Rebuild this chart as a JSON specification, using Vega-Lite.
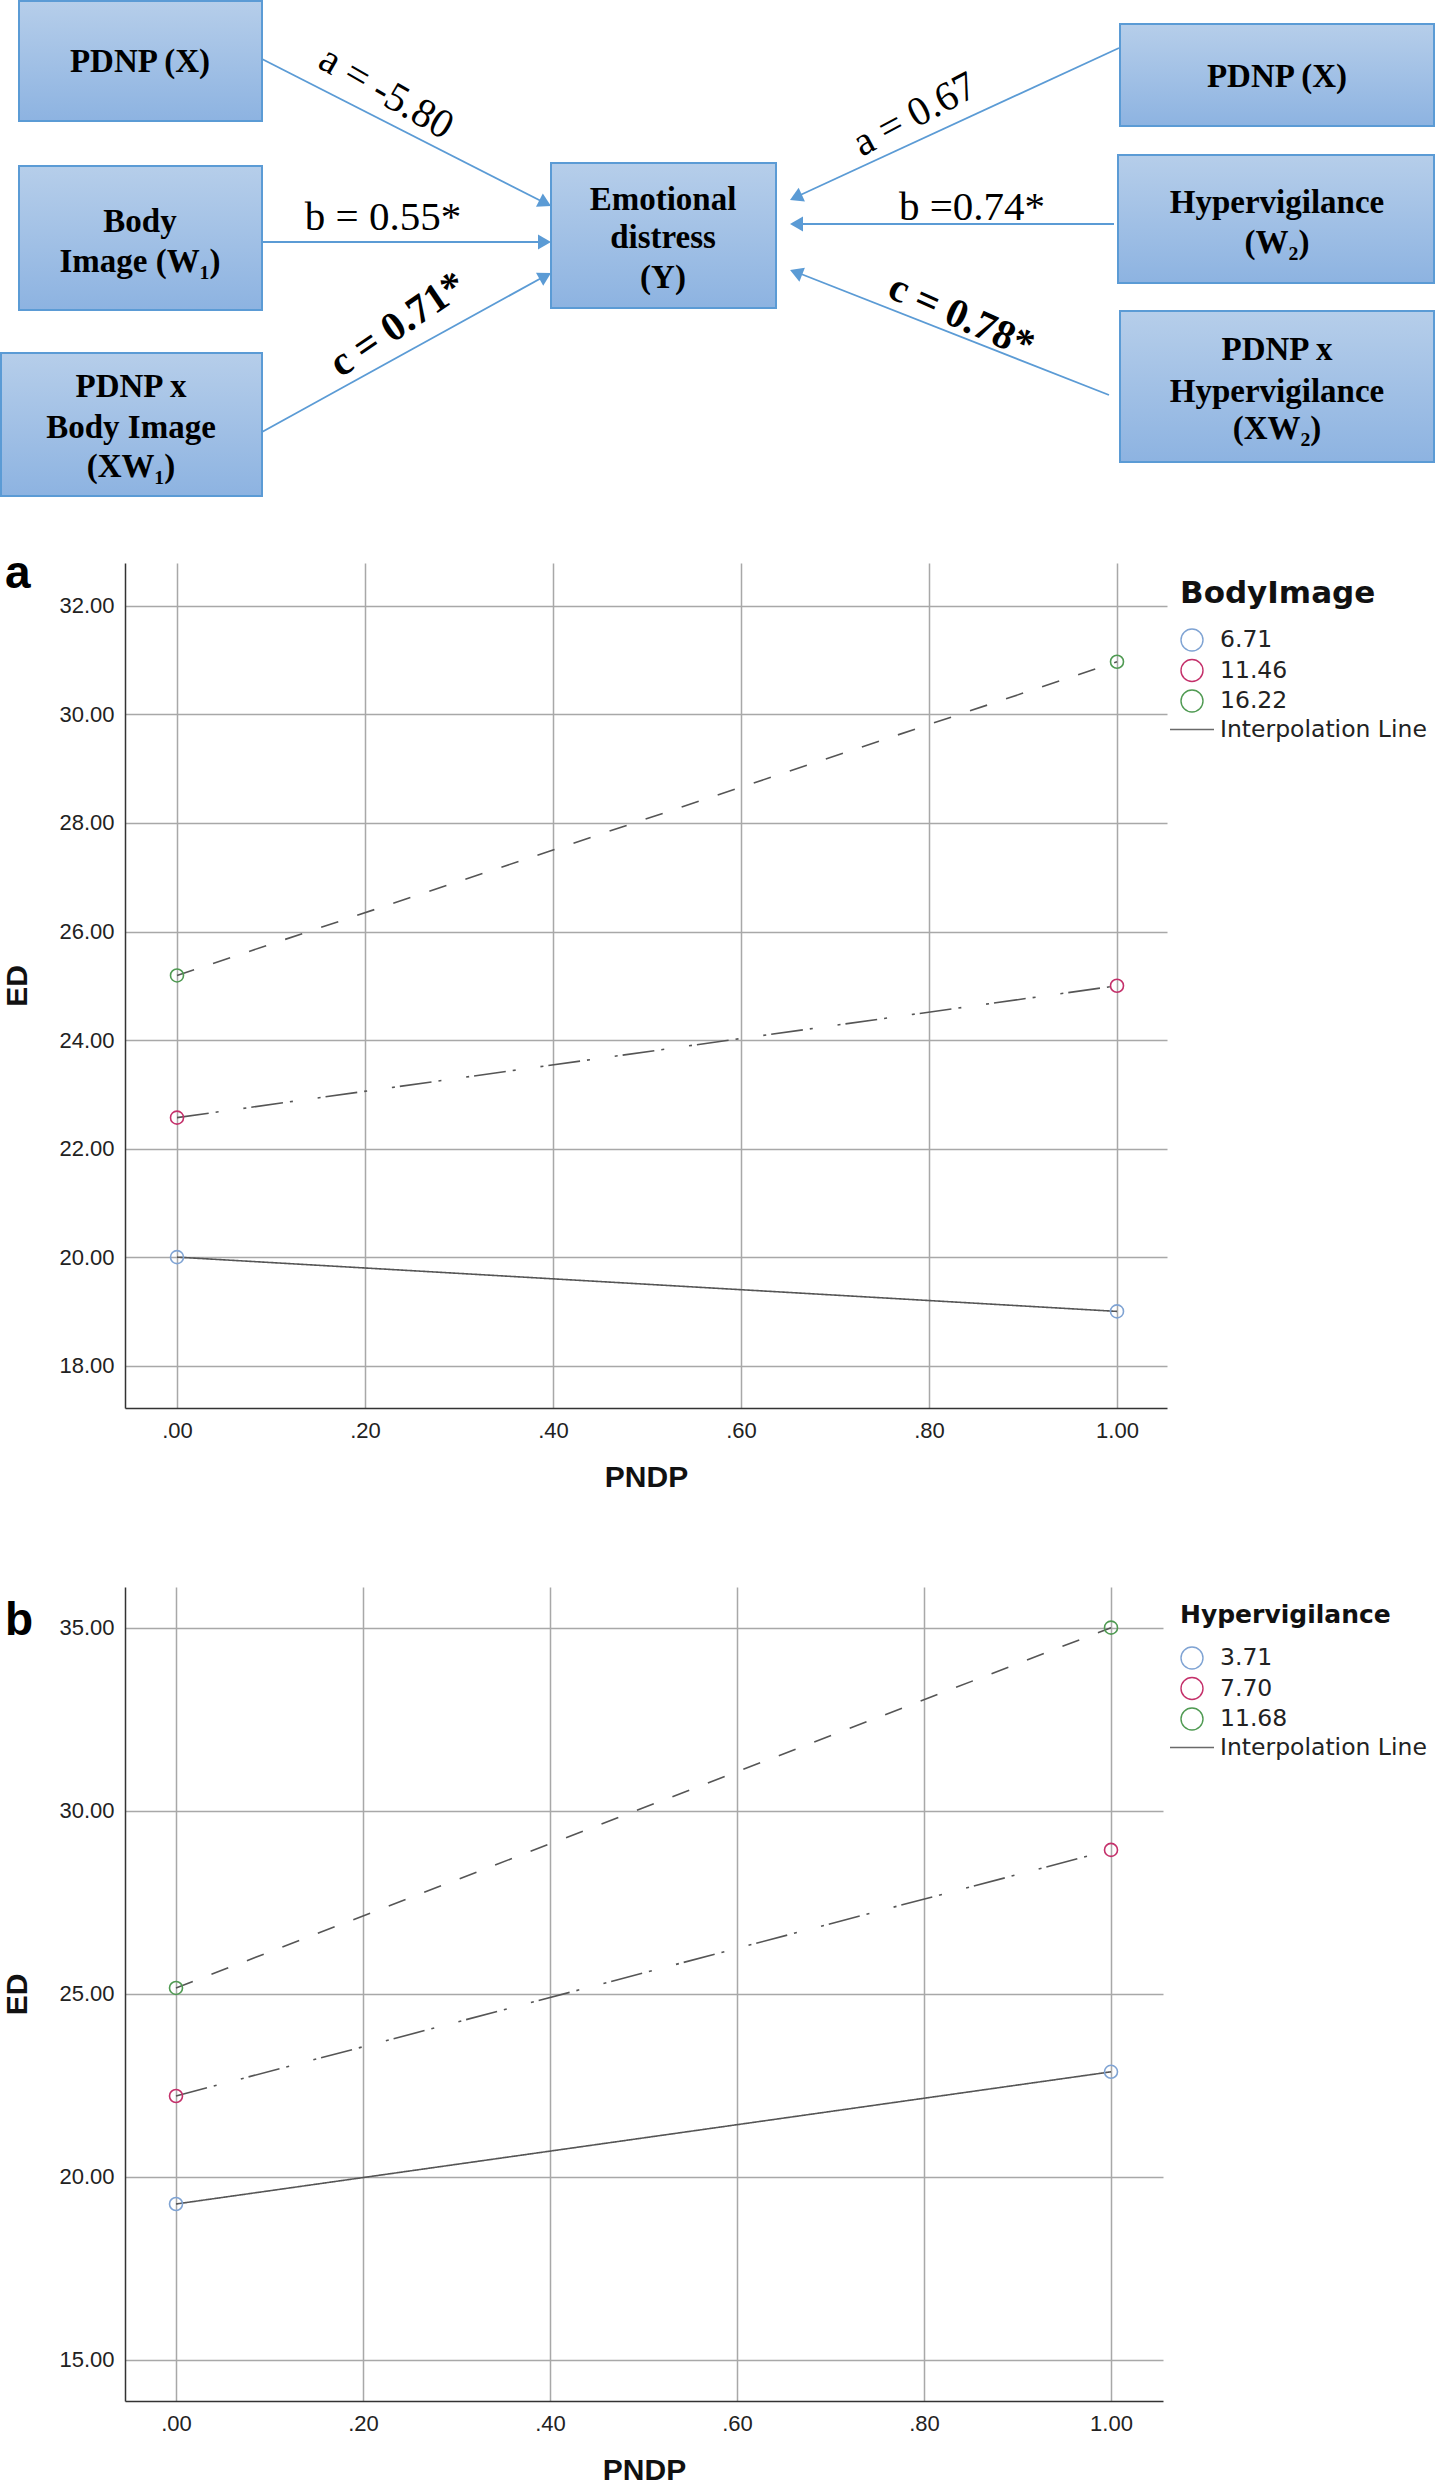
{
  "$schema": "https://vega.github.io/schema/vega-lite/v6.json",
  "padding": 0,
  "background": "white",
  "spacing": 179,
  "bounds": "flush",
  "resolve": {
    "scale": {"color": "independent", "shape": "independent", "strokeDash": "independent"},
    "legend": {"color": "independent", "shape": "independent", "strokeDash": "independent"}
  },
  "config": {
    "view": {"stroke": null},
    "axis": {
      "labelFont": "Liberation Sans", "labelFontSize": 22, "labelColor": "#222",
      "titleFont": "Liberation Sans", "titleFontSize": 30, "titleFontWeight": "bold", "titleColor": "#111",
      "gridColor": "#a8a8a8", "gridWidth": 1.5, "gridOpacity": 1,
      "domainColor": "#333", "domainWidth": 1.5, "ticks": false
    },
    "legend": {
      "orient": "right", "offset": 1, "padding": 16,
      "titleFont": "DejaVu Sans", "titleFontSize": 25, "titleFontWeight": "bold", "titleColor": "#111",
      "labelFont": "DejaVu Sans", "labelFontSize": 23.5, "labelColor": "#222",
      "symbolSize": 484, "symbolStrokeWidth": 1.4, "labelOffset": 16, "rowPadding": 2.5,
      "titlePadding": 18, "titleLimit": 400, "labelLimit": 400
    }
  },
  "vconcat": [
    {
      "width": 1042,
      "height": 384,
      "layer": [
        {
          "data": {"values": [
            {"box": "L1", "x1": 19, "x2": 262, "y1": 1, "y2": 121},
            {"box": "L2", "x1": 19, "x2": 262, "y1": 166, "y2": 310},
            {"box": "L3", "x1": 1, "x2": 262, "y1": 353, "y2": 496},
            {"box": "C", "x1": 551, "x2": 776, "y1": 163, "y2": 308},
            {"box": "R1", "x1": 1120, "x2": 1434, "y1": 24, "y2": 126},
            {"box": "R2", "x1": 1118, "x2": 1434, "y1": 155, "y2": 283},
            {"box": "R3", "x1": 1120, "x2": 1434, "y1": 311, "y2": 462}
          ]},
          "mark": {
            "type": "rect",
            "fill": {"gradient": "linear", "x1": 0, "y1": 0, "x2": 0, "y2": 1,
              "stops": [{"offset": 0, "color": "#b6ceea"}, {"offset": 1, "color": "#8db3e1"}]},
            "stroke": "#5b9bd5", "strokeWidth": 2
          },
          "encoding": {
            "x": {"field": "x1", "type": "quantitative", "scale": {"domain": [125, 1167], "nice": false, "zero": false}, "axis": null},
            "x2": {"field": "x2"},
            "y": {"field": "y1", "type": "quantitative", "scale": {"domain": [0, 384], "nice": false, "zero": false, "reverse": true}, "axis": null},
            "y2": {"field": "y2"}
          }
        },
        {
          "data": {"values": [
            {"path": "L-a", "x1": 262, "y1": 59, "x2": 545, "y2": 203},
            {"path": "L-b", "x1": 262, "y1": 242, "x2": 545, "y2": 242},
            {"path": "L-c", "x1": 262, "y1": 432, "x2": 545, "y2": 276},
            {"path": "R-a", "x1": 1119, "y1": 48, "x2": 796, "y2": 197},
            {"path": "R-b", "x1": 1114, "y1": 224, "x2": 796, "y2": 224},
            {"path": "R-c", "x1": 1109, "y1": 395, "x2": 796, "y2": 272}
          ]},
          "mark": {"type": "rule", "color": "#5b9bd5", "strokeWidth": 1.8},
          "encoding": {
            "x": {"field": "x1", "type": "quantitative"},
            "y": {"field": "y1", "type": "quantitative"},
            "x2": {"field": "x2"},
            "y2": {"field": "y2"}
          }
        },
        {
          "data": {"values": [
            {"path": "L-a", "x": 545.2, "y": 203.1, "ang": 27},
            {"path": "L-b", "x": 544.5, "y": 242, "ang": 0},
            {"path": "L-c", "x": 545.3, "y": 276.1, "ang": -28.8},
            {"path": "R-a", "x": 795.9, "y": 197.3, "ang": 155.2},
            {"path": "R-b", "x": 796.5, "y": 224, "ang": 180},
            {"path": "R-c", "x": 796.1, "y": 272.4, "ang": 201.4}
          ]},
          "mark": {"type": "point", "shape": "triangle-right", "filled": true, "color": "#5b9bd5", "size": 225, "opacity": 1},
          "encoding": {
            "x": {"field": "x", "type": "quantitative"},
            "y": {"field": "y", "type": "quantitative"},
            "angle": {"field": "ang", "type": "quantitative", "scale": null}
          }
        },
        {
          "data": {"values": [
            {"t": "PDNP (X)", "x": 140, "y": 62},
            {"t": "Body", "x": 140, "y": 222},
            {"t": "Image (W₁)", "x": 140, "y": 262},
            {"t": "PDNP x", "x": 131, "y": 387},
            {"t": "Body Image", "x": 131, "y": 428},
            {"t": "(XW₁)", "x": 131, "y": 467},
            {"t": "Emotional", "x": 663, "y": 200},
            {"t": "distress", "x": 663, "y": 238},
            {"t": "(Y)", "x": 663, "y": 278},
            {"t": "PDNP (X)", "x": 1277, "y": 77},
            {"t": "Hypervigilance", "x": 1277, "y": 203},
            {"t": "(W₂)", "x": 1277, "y": 243},
            {"t": "PDNP x", "x": 1277, "y": 350},
            {"t": "Hypervigilance", "x": 1277, "y": 392},
            {"t": "(XW₂)", "x": 1277, "y": 429}
          ]},
          "mark": {"type": "text", "font": "Liberation Serif", "fontSize": 33, "fontWeight": "bold", "align": "center", "baseline": "middle", "color": "#000"},
          "encoding": {
            "x": {"field": "x", "type": "quantitative"},
            "y": {"field": "y", "type": "quantitative"},
            "text": {"field": "t"}
          }
        },
        {
          "data": {"values": [
            {"t": "a = -5.80", "x": 386, "y": 93, "ang": 30},
            {"t": "b = 0.55*", "x": 383, "y": 218, "ang": 0},
            {"t": "a  = 0.67", "x": 915, "y": 115, "ang": -28},
            {"t": "b =0.74*", "x": 972, "y": 208, "ang": 0}
          ]},
          "mark": {"type": "text", "font": "Liberation Serif", "fontSize": 41, "align": "center", "baseline": "middle", "color": "#000"},
          "encoding": {
            "x": {"field": "x", "type": "quantitative"},
            "y": {"field": "y", "type": "quantitative"},
            "text": {"field": "t"},
            "angle": {"field": "ang", "type": "quantitative", "scale": null}
          }
        },
        {
          "data": {"values": [
            {"t": "c = 0.71*", "x": 398, "y": 325, "ang": -34},
            {"t": "c  = 0.78*", "x": 961, "y": 317, "ang": 24}
          ]},
          "mark": {"type": "text", "font": "Liberation Serif", "fontSize": 41, "fontWeight": "bold", "align": "center", "baseline": "middle", "color": "#000"},
          "encoding": {
            "x": {"field": "x", "type": "quantitative"},
            "y": {"field": "y", "type": "quantitative"},
            "text": {"field": "t"},
            "angle": {"field": "ang", "type": "quantitative", "scale": null}
          }
        }
      ]
    },
    {
      "width": 1042,
      "height": 845,
      "title": {"text": "a", "anchor": "start", "frame": "bounds", "orient": "top", "font": "Liberation Sans", "fontSize": 46, "fontWeight": "bold", "color": "#000", "baseline": "alphabetic", "offset": -24, "dx": 2, "dy": 47},
      "data": {"values": [
        {"PNDP": 0, "ED": 20.0, "BodyImage": "6.71"},
        {"PNDP": 1, "ED": 19.0, "BodyImage": "6.71"},
        {"PNDP": 0, "ED": 22.57, "BodyImage": "11.46"},
        {"PNDP": 1, "ED": 25.0, "BodyImage": "11.46"},
        {"PNDP": 0, "ED": 25.19, "BodyImage": "16.22"},
        {"PNDP": 1, "ED": 30.97, "BodyImage": "16.22"}
      ]},
      "layer": [
        {
          "mark": {"type": "line", "color": "#555555", "strokeWidth": 1.6},
          "encoding": {
            "x": {"field": "PNDP", "type": "quantitative",
              "scale": {"domain": [-0.05532, 1.05319], "nice": false, "zero": false},
              "axis": {"values": [0, 0.2, 0.4, 0.6, 0.8, 1], "labelExpr": "datum.value < 1 ? substring(format(datum.value, '.2f'), 1) : format(datum.value, '.2f')", "title": "PNDP", "labelPadding": 12, "titlePadding": 21}},
            "y": {"field": "ED", "type": "quantitative",
              "scale": {"domain": [17.22, 32.79], "nice": false, "zero": false},
              "axis": {"values": [18, 20, 22, 24, 26, 28, 30, 32], "format": ".2f", "title": "ED", "labelPadding": 11, "titlePadding": 26}},
            "strokeDash": {"field": "BodyImage", "type": "nominal",
              "scale": {"domain": ["6.71", "11.46", "16.22"], "range": [[1, 0], [32, 7, 3, 25, 3, 5], [18, 20]]}, "legend": null}
          }
        },
        {
          "mark": {"type": "point", "filled": false, "size": 169, "strokeWidth": 1.6, "opacity": 1},
          "encoding": {
            "x": {"field": "PNDP", "type": "quantitative"},
            "y": {"field": "ED", "type": "quantitative"},
            "color": {"field": "BodyImage", "type": "nominal",
              "scale": {"domain": ["6.71", "11.46", "16.22", "Interpolation Line"], "range": ["#7fa3d3", "#c4306a", "#4f9a52", "#6a6a6a"]},
              "legend": {"title": "BodyImage", "titleFontSize": 31, "titlePadding": 18, "offset": -3}},
            "shape": {"field": "BodyImage", "type": "nominal",
              "scale": {"domain": ["6.71", "11.46", "16.22", "Interpolation Line"], "range": ["circle", "circle", "circle", "M-2,0L2,0"]},
              "legend": {"title": "BodyImage", "titleFontSize": 31, "titlePadding": 18, "offset": -3}}
          }
        }
      ]
    },
    {
      "width": 1038,
      "height": 814,
      "title": {"text": "b", "anchor": "start", "frame": "bounds", "orient": "top", "font": "Liberation Sans", "fontSize": 46, "fontWeight": "bold", "color": "#000", "baseline": "alphabetic", "offset": -46, "dx": 2, "dy": 48},
      "data": {"values": [
        {"PNDP": 0, "ED": 19.26, "Hypervigilance": "3.71"},
        {"PNDP": 1, "ED": 22.87, "Hypervigilance": "3.71"},
        {"PNDP": 0, "ED": 22.21, "Hypervigilance": "7.70"},
        {"PNDP": 1, "ED": 28.93, "Hypervigilance": "7.70"},
        {"PNDP": 0, "ED": 25.16, "Hypervigilance": "11.68"},
        {"PNDP": 1, "ED": 35.0, "Hypervigilance": "11.68"}
      ]},
      "layer": [
        {
          "mark": {"type": "line", "color": "#555555", "strokeWidth": 1.6},
          "encoding": {
            "x": {"field": "PNDP", "type": "quantitative",
              "scale": {"domain": [-0.05455, 1.05561], "nice": false, "zero": false},
              "axis": {"values": [0, 0.2, 0.4, 0.6, 0.8, 1], "labelExpr": "datum.value < 1 ? substring(format(datum.value, '.2f'), 1) : format(datum.value, '.2f')", "title": "PNDP", "labelPadding": 12, "titlePadding": 21}},
            "y": {"field": "ED", "type": "quantitative",
              "scale": {"domain": [13.88, 36.11], "nice": false, "zero": false},
              "axis": {"values": [15, 20, 25, 30, 35], "format": ".2f", "title": "ED", "labelPadding": 11, "titlePadding": 26}},
            "strokeDash": {"field": "Hypervigilance", "type": "nominal",
              "scale": {"domain": ["3.71", "7.70", "11.68"], "range": [[1, 0], [32, 7, 3, 25, 3, 5], [18, 20]]}, "legend": null}
          }
        },
        {
          "mark": {"type": "point", "filled": false, "size": 169, "strokeWidth": 1.6, "opacity": 1},
          "encoding": {
            "x": {"field": "PNDP", "type": "quantitative"},
            "y": {"field": "ED", "type": "quantitative"},
            "color": {"field": "Hypervigilance", "type": "nominal",
              "scale": {"domain": ["3.71", "7.70", "11.68", "Interpolation Line"], "range": ["#7fa3d3", "#c4306a", "#4f9a52", "#6a6a6a"]},
              "legend": {"title": "Hypervigilance", "offset": 1}},
            "shape": {"field": "Hypervigilance", "type": "nominal",
              "scale": {"domain": ["3.71", "7.70", "11.68", "Interpolation Line"], "range": ["circle", "circle", "circle", "M-2,0L2,0"]},
              "legend": {"title": "Hypervigilance", "offset": 1}}
          }
        }
      ]
    }
  ]
}
